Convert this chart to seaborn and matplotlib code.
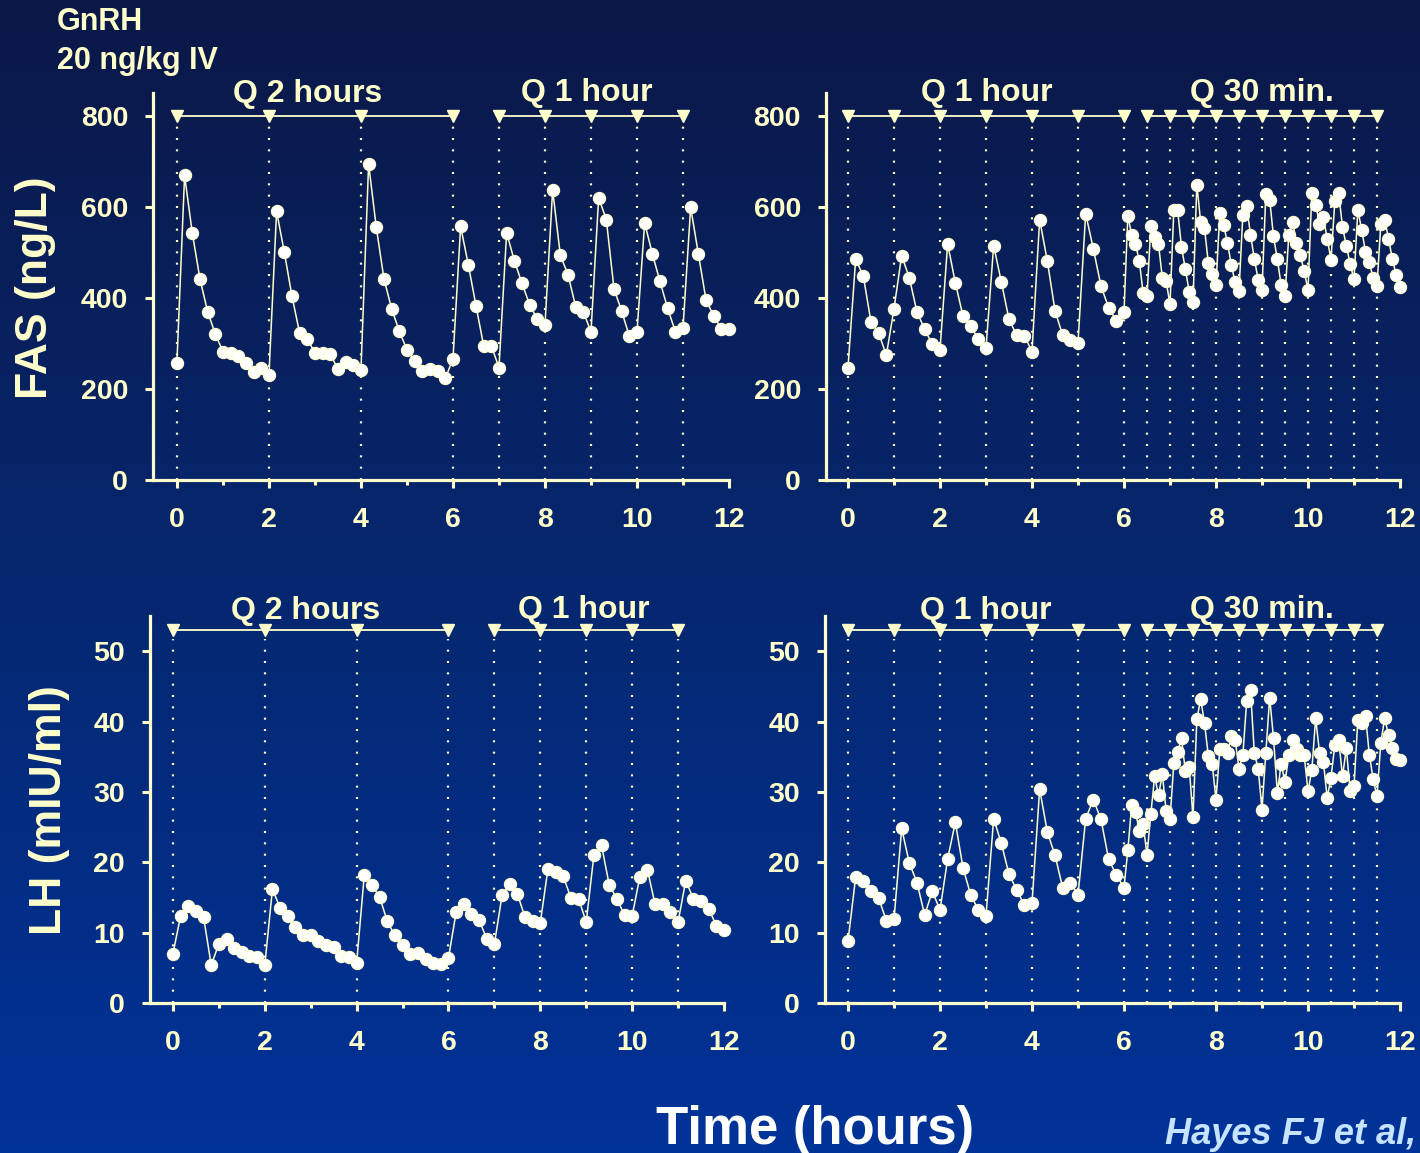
import numpy as np
import pandas as pd
import matplotlib
matplotlib.use("Agg")
import matplotlib.pyplot as plt
import seaborn as sns
from matplotlib.colors import LinearSegmentedColormap

# ---------------------------------------------------------------------------
# Sampling schedule (hours)
# ---------------------------------------------------------------------------
t_10min = np.arange(73) / 6.0                 # every 10 min, 0-12 h
t_first6 = np.arange(37) / 6.0                # every 10 min, 0-6 h
t_5min_late = 6.0 + np.arange(1, 73) / 12.0   # every 5 min, 6h05-12 h
t_mixed = np.concatenate([t_first6, t_5min_late])

# ---------------------------------------------------------------------------
# GnRH dosing times (hours)
# ---------------------------------------------------------------------------
left_doses_q2h = [0, 2, 4, 6]
left_doses_q1h = [7, 8, 9, 10, 11]
right_doses_q1h = [0, 1, 2, 3, 4, 5, 6]
right_doses_q30 = [6.5, 7, 7.5, 8, 8.5, 9, 9.5, 10, 10.5, 11, 11.5]

# ---------------------------------------------------------------------------
# FAS (ng/L)
# ---------------------------------------------------------------------------
fas_left = [
    258, 669, 543, 442, 370, 321, 282, 279, 273, 258, 238, 247, 230,
    590, 501, 404, 323, 309, 280, 280, 277, 243, 260, 253, 241,
    694, 555, 442, 376, 327, 286, 262, 240, 244, 239, 223, 266,
    557, 473, 383, 295, 295, 247, 543, 482, 432, 385, 353, 340,
    637, 494, 451, 381, 370, 325, 620, 572, 420, 371, 316, 325,
    565, 497, 436, 377, 326, 334, 599, 497, 396, 360, 332, 332,
]
fas_right = [
    247, 485, 448, 347, 323, 274, 376,
    493, 444, 369, 331, 298, 286,
    519, 433, 360, 339, 309, 289,
    515, 435, 353, 318, 317, 282,
    572, 481, 372, 318, 307, 301,
    585, 508, 426, 378, 350, 369,
    580, 539, 518, 481, 410, 404, 557, 534, 518, 444, 436, 386,
    594, 592, 512, 463, 414, 390, 649, 567, 553, 477, 453, 429,
    587, 559, 521, 472, 434, 415, 582, 601, 539, 486, 440, 418,
    628, 616, 535, 485, 428, 404, 539, 566, 521, 494, 459, 417,
    631, 605, 563, 578, 530, 484, 612, 631, 555, 515, 474, 441,
    593, 550, 501, 479, 443, 426, 563, 572, 530, 486, 450, 425,
]

# ---------------------------------------------------------------------------
# LH (mIU/ml)
# ---------------------------------------------------------------------------
lh_left = [
    7.0, 12.4, 13.8, 13.1, 12.2, 5.4, 8.4, 9.1, 7.8, 7.3, 6.7, 6.5, 5.4,
    16.2, 13.5, 12.3, 10.8, 9.6, 9.7, 8.8, 8.2, 7.9, 6.7, 6.6, 5.7,
    18.2, 16.7, 15.1, 11.6, 9.6, 8.2, 7.0, 7.1, 6.3, 5.7, 5.6, 6.4,
    12.9, 14.0, 12.6, 11.8, 9.1, 8.4, 15.3, 16.9, 15.5, 12.2, 11.6, 11.4,
    19.1, 18.6, 18.0, 14.9, 14.8, 11.5, 21.0, 22.4, 16.8, 14.8, 12.5, 12.4,
    17.9, 18.9, 14.0, 14.1, 13.0, 11.5, 17.4, 14.8, 14.5, 13.4, 11.0, 10.4,
]
lh_right = [
    8.8, 17.9, 17.3, 15.9, 14.9, 11.7, 11.9,
    24.8, 19.9, 17.1, 12.5, 15.9, 13.2,
    20.5, 25.7, 19.2, 15.4, 13.2, 12.4,
    26.2, 22.7, 18.3, 16.1, 13.9, 14.2,
    30.4, 24.3, 21.0, 16.4, 17.1, 15.4,
    26.2, 28.9, 26.1, 20.4, 18.2, 16.4,
    21.7, 28.1, 27.1, 24.5, 25.4, 21.0, 26.9, 32.2, 29.5, 32.5, 27.3, 26.1,
    34.1, 35.7, 37.6, 33.0, 33.6, 26.4, 40.3, 43.2, 39.8, 35.1, 34.0, 28.9,
    36.1, 36.1, 35.5, 37.9, 37.4, 33.3, 35.2, 42.9, 44.5, 35.5, 33.3, 27.5,
    35.6, 43.4, 37.7, 29.9, 34.0, 31.4, 35.2, 37.4, 36.1, 35.3, 35.2, 30.1,
    33.1, 40.5, 35.6, 34.3, 29.2, 32.0, 36.7, 37.4, 32.2, 36.2, 30.2, 30.8,
    40.2, 39.8, 40.8, 35.3, 31.8, 29.4, 37.0, 40.5, 38.1, 36.2, 34.7, 34.5,
]

fas_ticks = [0, 200, 400, 600, 800]
lh_ticks = [0, 10, 20, 30, 40, 50]
hour_ticks = [0, 2, 4, 6, 8, 10, 12]
hour_minor = [1, 3, 5, 7, 9, 11]

CREAM = "#FFFFCC"
W, H = 1420, 1153

sns.set_theme(style="ticks")
plt.rcParams["font.family"] = ["Liberation Sans", "DejaVu Sans"]
plt.rcParams["font.weight"] = "bold"

fig = plt.figure(figsize=(W / 100, H / 100), dpi=100)

# navy-to-blue background
bg = fig.add_axes([0, 0, 1, 1], zorder=-10)
grad = np.linspace(0, 1, 256).reshape(-1, 1)
cmap = LinearSegmentedColormap.from_list("bg", ["#0B1847", "#06276F", "#003399"])
bg.imshow(grad, aspect="auto", cmap=cmap, extent=[0, 1, 0, 1], origin="upper")
bg.set_axis_off()


def px_axes(left, right, top, bottom):
    return fig.add_axes([left / W, 1 - bottom / H, (right - left) / W, (bottom - top) / H])


ax_tl = px_axes(153, 729, 93, 480)
ax_tr = px_axes(826, 1400, 93, 480)
ax_bl = px_axes(150, 724, 616, 1003)
ax_br = px_axes(825, 1400, 616, 1003)


def draw_series(ax, t, v):
    df = pd.DataFrame({"t": t, "v": v})
    sns.lineplot(data=df, x="t", y="v", ax=ax, color=CREAM, linewidth=1.1,
                 marker="o", markersize=8.8, markerfacecolor="white",
                 markeredgecolor=CREAM, markeredgewidth=0.8, estimator=None,
                 sort=False, clip_on=False, zorder=5)


def draw_doses(ax, groups, ytop):
    for g in groups:
        ax.plot([g[0], g[-1]], [ytop, ytop], color=CREAM, lw=1.3,
                clip_on=False, zorder=3)
        for d in g:
            ax.plot([d, d], [0, ytop * 0.975], color=CREAM, lw=1.6,
                    ls=(0, (0.9, 4.2)), zorder=2)
        ax.plot(g, [ytop] * len(g), ls="none", marker="v", ms=8,
                color=CREAM, mec=CREAM, clip_on=False, zorder=4)


def style_axes(ax, xlim, ylim, yticks):
    ax.set_facecolor("none")
    ax.set_xlim(*xlim)
    ax.set_ylim(*ylim)
    sns.despine(ax=ax)
    for s in ("left", "bottom"):
        ax.spines[s].set_color(CREAM)
        ax.spines[s].set_linewidth(2.3)
    ax.set_xticks(hour_ticks)
    ax.set_xticks(hour_minor, minor=True)
    ax.set_yticks(yticks)
    ax.tick_params(axis="both", which="major", colors=CREAM, width=2.2,
                   length=6, direction="out", labelsize=20.5)
    ax.tick_params(axis="x", which="major", pad=13.5)
    ax.tick_params(axis="y", which="major", pad=12)
    ax.tick_params(axis="x", which="minor", colors=CREAM, width=2.2,
                   length=3.5, direction="out")
    for lab in ax.get_xticklabels() + ax.get_yticklabels():
        lab.set_fontweight("bold")
        lab.set_color(CREAM)
    ax.set_xlabel("")
    ax.set_ylabel("")


# FAS panels
draw_doses(ax_tl, [left_doses_q2h, left_doses_q1h], 800)
draw_series(ax_tl, t_10min, fas_left)
style_axes(ax_tl, (-0.52, 12), (0, 850), fas_ticks)

draw_doses(ax_tr, [right_doses_q1h, right_doses_q30], 800)
draw_series(ax_tr, t_mixed, fas_right)
style_axes(ax_tr, (-0.478, 12), (0, 850), fas_ticks)

# LH panels
draw_doses(ax_bl, [left_doses_q2h, left_doses_q1h], 53)
draw_series(ax_bl, t_10min, lh_left)
style_axes(ax_bl, (-0.50, 12), (0, 55), lh_ticks)

draw_doses(ax_br, [right_doses_q1h, right_doses_q30], 53)
draw_series(ax_br, t_mixed, lh_right)
style_axes(ax_br, (-0.50, 12), (0, 55), lh_ticks)

# regimen headers
hdr = dict(color=CREAM, fontsize=23, fontweight="bold", ha="center",
           va="center", clip_on=False)
ax_tl.text(2.85, 847, "Q 2 hours", **hdr)
ax_tl.text(8.91, 849, "Q 1 hour", **hdr)
ax_tr.text(3.02, 849, "Q 1 hour", **hdr)
ax_tr.text(9.0, 849, "Q 30 min.", **hdr)
ax_bl.text(2.88, 55.7, "Q 2 hours", **hdr)
ax_bl.text(8.95, 55.85, "Q 1 hour", **hdr)
ax_br.text(3.0, 55.75, "Q 1 hour", **hdr)
ax_br.text(9.0, 55.85, "Q 30 min.", **hdr)


def ftext(x, y, s, **kw):
    fig.text(x / W, 1 - y / H, s, **kw)


ftext(57, 22, "GnRH", color=CREAM, fontsize=22, fontweight="bold",
      ha="left", va="center")
ftext(57, 61, "20 ng/kg IV", color=CREAM, fontsize=22, fontweight="bold",
      ha="left", va="center")
ftext(36, 288, "FAS (ng/L)", color=CREAM, fontsize=32, fontweight="bold",
      rotation=90, ha="center", va="center")
ftext(49, 810, "LH (mIU/ml)", color=CREAM, fontsize=32, fontweight="bold",
      rotation=90, ha="center", va="center")
ftext(815, 1130, "Time (hours)", color="white", fontsize=38,
      fontweight="bold", ha="center", va="center")
ftext(1416, 1134, "Hayes FJ et al,", color="#C6E4FF", fontsize=26,
      fontweight="bold", style="italic", ha="right", va="center")

fig.savefig("out.png", dpi=100)
